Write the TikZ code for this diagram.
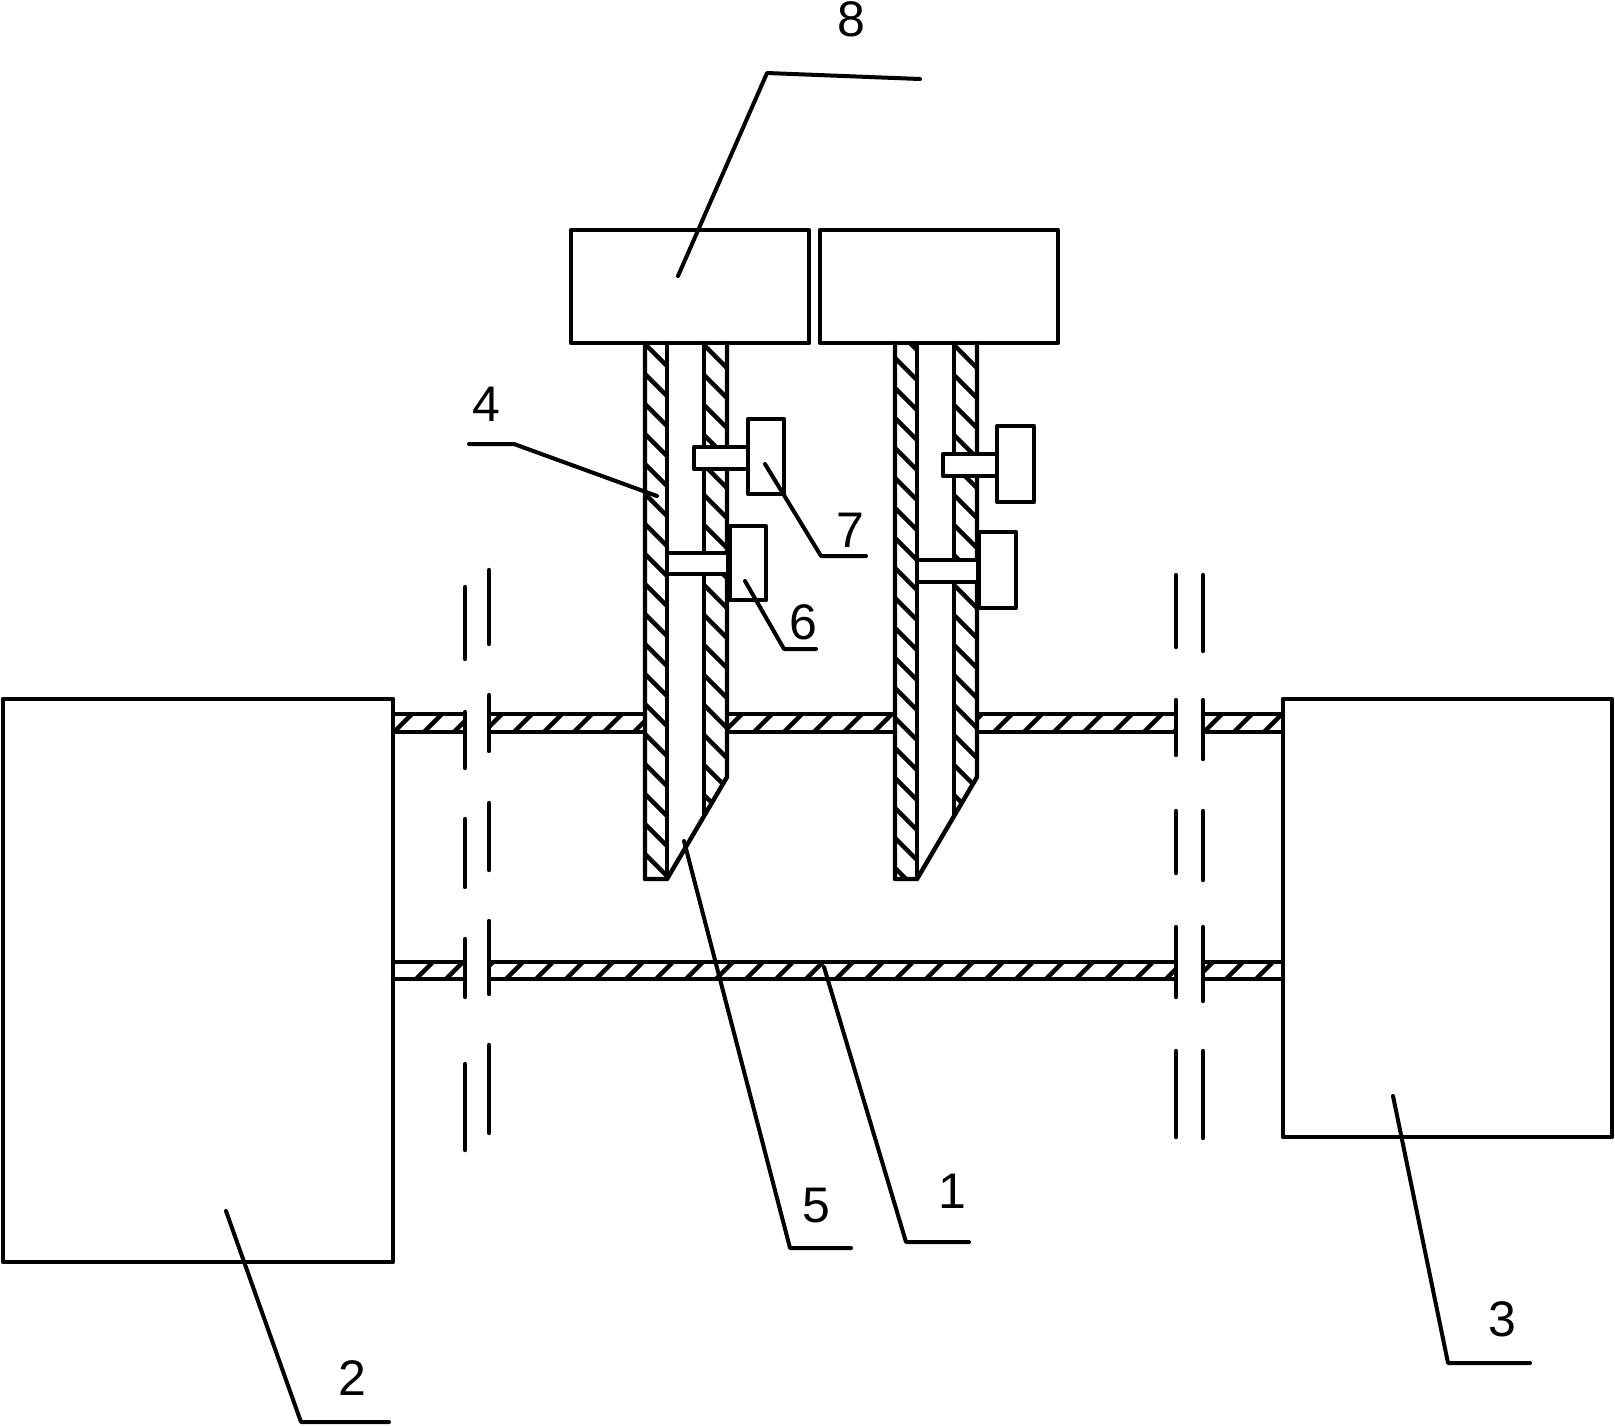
\documentclass[tikz,border=0pt]{standalone}
\usepackage{fontspec}
\setmainfont{Liberation Sans}
\tikzset{
	part/.style={line width=2.2pt, line join=round, line cap=round},
	hatch/.style={line width=2.2pt},
	leader/.style={line width=2pt, line join=round, line cap=round},
	num/.style={font=\fontsize{25}{25}\selectfont, inner sep=0pt}
}

\begin{document}
\begin{tikzpicture}[x=0.5pt,y=-0.5pt]
	\useasboundingbox (0,0) rectangle (1615,1425);

	% shafts
	\foreach \a/\b in {393/465,489/645,727/895,977/1176,1203/1283}{
		\begin{scope}
			\clip (\a,714) rectangle (\b,732);
			\foreach \x in {393,423,...,1293}{
				\draw[hatch] (\x,733) -- ++(20,-20);
			}
		\end{scope}
		\draw[part] (\a,714) -- (\b,714) (\a,732) -- (\b,732);
	}
	\foreach \a/\b in {393/465,489/1176,1203/1283}{
		\begin{scope}
			\clip (\a,962) rectangle (\b,979);
			\foreach \x in {415,445,...,1285}{
				\draw[hatch] (\x,980) -- ++(20,-20);
			}
		\end{scope}
		\draw[part] (\a,962) -- (\b,962) (\a,979) -- (\b,979);
	}

	% needles
	\foreach \n/\ly in {0/314,250/328}{
		\begin{scope}[shift={(\n,0)}]
			\begin{scope}
				\clip (645,343) rectangle (667,879);
				\foreach \y in {0,30,...,540}{
					\draw[hatch] (645,\ly+\y) -- ++(23,23);
				}
			\end{scope}
			\begin{scope}
				\clip (704,343) -- (727,343) -- (727,777) -- (704,815) -- cycle;
				\foreach \y in {345,375,...,825}{
					\draw[hatch] (704,\y) -- ++(23,23);
				}
			\end{scope}
			\draw[part] (645,343) -- (645,879) -- (667,879) -- (727,777) -- (727,343);
			\draw[part] (667,343) -- (667,879);
			\draw[part] (704,343) -- (704,815);
		\end{scope}
	}

	% heads
	\draw[part] (571,230) rectangle (809,343);
	\draw[part] (820,230) rectangle (1058,343);

	% left needle screws
	\draw[part, fill=white] (694,447) rectangle (748,469);
	\draw[part, fill=white] (748,419) rectangle (784,494);
	\draw[part, fill=white] (667,553) rectangle (728,574);
	\draw[part, fill=white] (730,526) rectangle (766,600);

	% right needle screws
	\draw[part, fill=white] (943,454) rectangle (997,476);
	\draw[part, fill=white] (997,426) rectangle (1034,502);
	\draw[part, fill=white] (917,560) rectangle (978,582);
	\draw[part, fill=white] (979,532) rectangle (1016,608);

	% tanks
	\draw[part] (3,699) rectangle (393,1262);
	\draw[part] (1283,699) rectangle (1612,1137);

	% break lines
	\foreach \x/\a/\b in {465/587/659,465/712/768,465/819/887,465/939/997,465/1064/1150,
		489/570/644,489/695/751,489/803/870,489/921/994,489/1045/1133,
		1176/575/647,1176/700/755,1176/811/873,1176/927/997,1176/1051/1137,
		1203/575/651,1203/700/759,1203/811/880,1203/927/1001,1203/1051/1138}{
		\draw[part] (\x,\a) -- (\x,\b);
	}

	% leaders
	\draw[leader] (678,276) -- (767,73) -- (920,79);
	\draw[leader] (469,444) -- (514,444) -- (657,496);
	\draw[leader] (765,464) -- (821,556) -- (866,556);
	\draw[leader] (745,581) -- (784,649) -- (816,649);
	\draw[leader] (684,841) -- (790,1248) -- (851,1248);
	\draw[leader] (824,967) -- (906,1242) -- (969,1242);
	\draw[leader] (1393,1096) -- (1448,1363) -- (1530,1363);
	\draw[leader] (226,1211) -- (301,1422) -- (389,1422);

	\node[num] (lab8) at (851,19) {8};
	\node[num] (lab4) at (486,404) {4};
	\node[num] (lab7) at (850,530) {7};
	\node[num] (lab6) at (803,622) {6};
	\node[num] (lab5) at (816,1206) {5};
	\node[num] (lab1) at (952,1191) {1};
	\node[num] (lab3) at (1502,1319) {3};
	\node[num] (lab2) at (352,1378) {2};

\end{tikzpicture}
\end{document}
